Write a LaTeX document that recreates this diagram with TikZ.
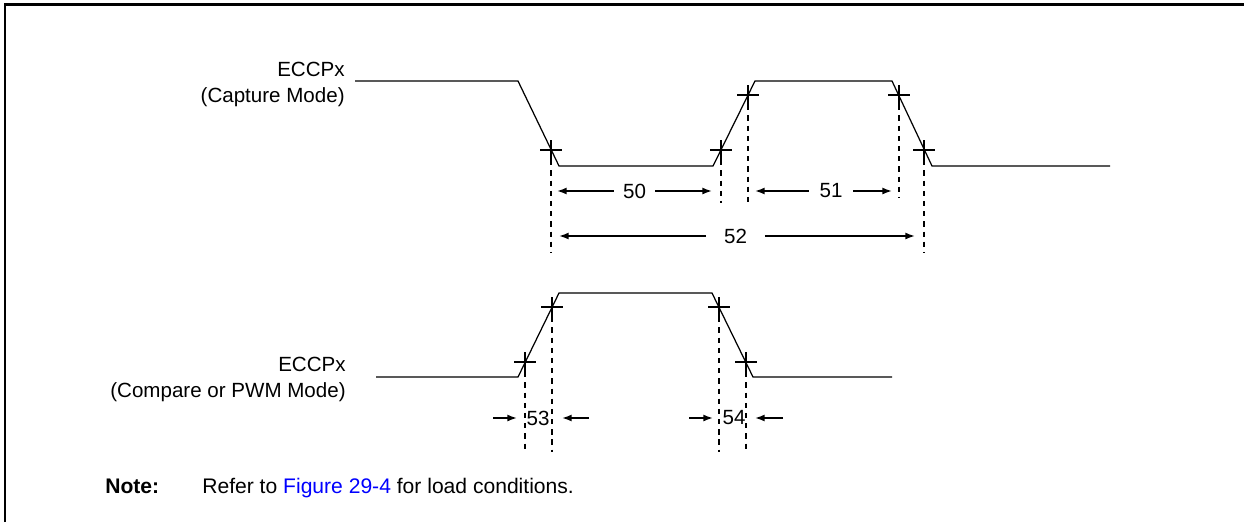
\documentclass[tikz,border=0pt]{standalone}
\usepackage{fontspec}
\setmainfont{Liberation Sans}
\usetikzlibrary{arrows.meta}

\tikzset{
  sig/.style={line width=0.7pt},
  tick/.style={line width=1.1pt},
  guide/.style={line width=1.2pt, dash pattern=on 3pt off 2.8pt},
  dim/.style={line width=0.95pt, -{Latex[length=5.5pt,width=4pt]}},
  lbl/.style={inner sep=0pt, font=\fontsize{11.7}{15}\selectfont},
  num/.style={lbl, inner xsep=5pt},
}
\newcommand{\crossat}[1]{\draw[tick] ([xshift=-6.2pt]#1) -- ([xshift=6.2pt]#1) ([yshift=-5.7pt]#1) -- ([yshift=5.7pt]#1);}

\begin{document}
\begin{tikzpicture}[x=0.02cm, y=-0.02cm]
  \useasboundingbox (0,0) rectangle (1244,522);
  % frame
  \draw[line width=1.7pt] (5,522) -- (5,4) -- (1244,4);

  % capture mode
  \node[lbl, align=right, anchor=east] (capl) at (345,84.5) {ECCPx\\(Capture Mode)};
  \draw[sig] (355,81) -- (518,81) -- (559,166) -- (713,166) -- (755,81)
    -- (892,81) -- (932,166) -- (1110,166);
  \coordinate (c1) at (551,150);
  \coordinate (c2) at (721,150);
  \coordinate (c3) at (748,95);
  \coordinate (c4) at (899,95);
  \coordinate (c5) at (924,150);
  \foreach \c in {c1,c2,c3,c4,c5} {\crossat{\c}}
  \foreach \c/\l in {c1/103,c2/53,c3/108,c4/102,c5/103}
    \draw[guide] (\c) -- ++(0,\l);

  \node[num] (t50) at (634.5,191) {50};
  \draw[dim] (t50) -- (557,191);
  \draw[dim] (t50) -- (712,191);
  \node[num, inner xsep=6pt] (t51) at (831,191) {51};
  \draw[dim] (t51) -- (755,191);
  \draw[dim] (t51) -- (892,191);
  \node[num, inner xsep=10pt] (t52) at (735.5,236) {52};
  \draw[dim] (t52) -- (559,236);
  \draw[dim] (t52) -- (915,236);

  % compare / pwm mode
  \node[lbl, align=right, anchor=east] (cmpl) at (346,379.5) {ECCPx\\(Compare or PWM Mode)};
  \draw[sig] (376,377) -- (518,377) -- (559,293) -- (712,293) -- (753,377) -- (892,377);
  \coordinate (b1) at (525,362);
  \coordinate (b2) at (552,307);
  \coordinate (b3) at (719,307);
  \coordinate (b4) at (746,362);
  \foreach \c in {b1,b2,b3,b4} {\crossat{\c}}
  \foreach \c/\l in {b1/90,b2/145,b3/145,b4/90}
    \draw[guide] (\c) -- ++(0,\l);

  \node[lbl] (t53) at (538,418) {53};
  \draw[dim] (493,418) -- (517,418);
  \draw[dim] (589,418) -- (562,418);
  \node[lbl] (t54) at (734,418) {54};
  \draw[dim] (689,418) -- (713,418);
  \draw[dim] (783,418) -- (755,418);

  % note
  \node[lbl, font=\fontsize{12}{14}\selectfont\bfseries, anchor=base west] (note) at (105,493) {Note:};
  \node[lbl, font=\fontsize{12}{14}\selectfont, anchor=base west] (ref) at (202,493)
    {Refer to \textcolor{blue}{Figure 29-4} for load conditions.};
\end{tikzpicture}
\end{document}
